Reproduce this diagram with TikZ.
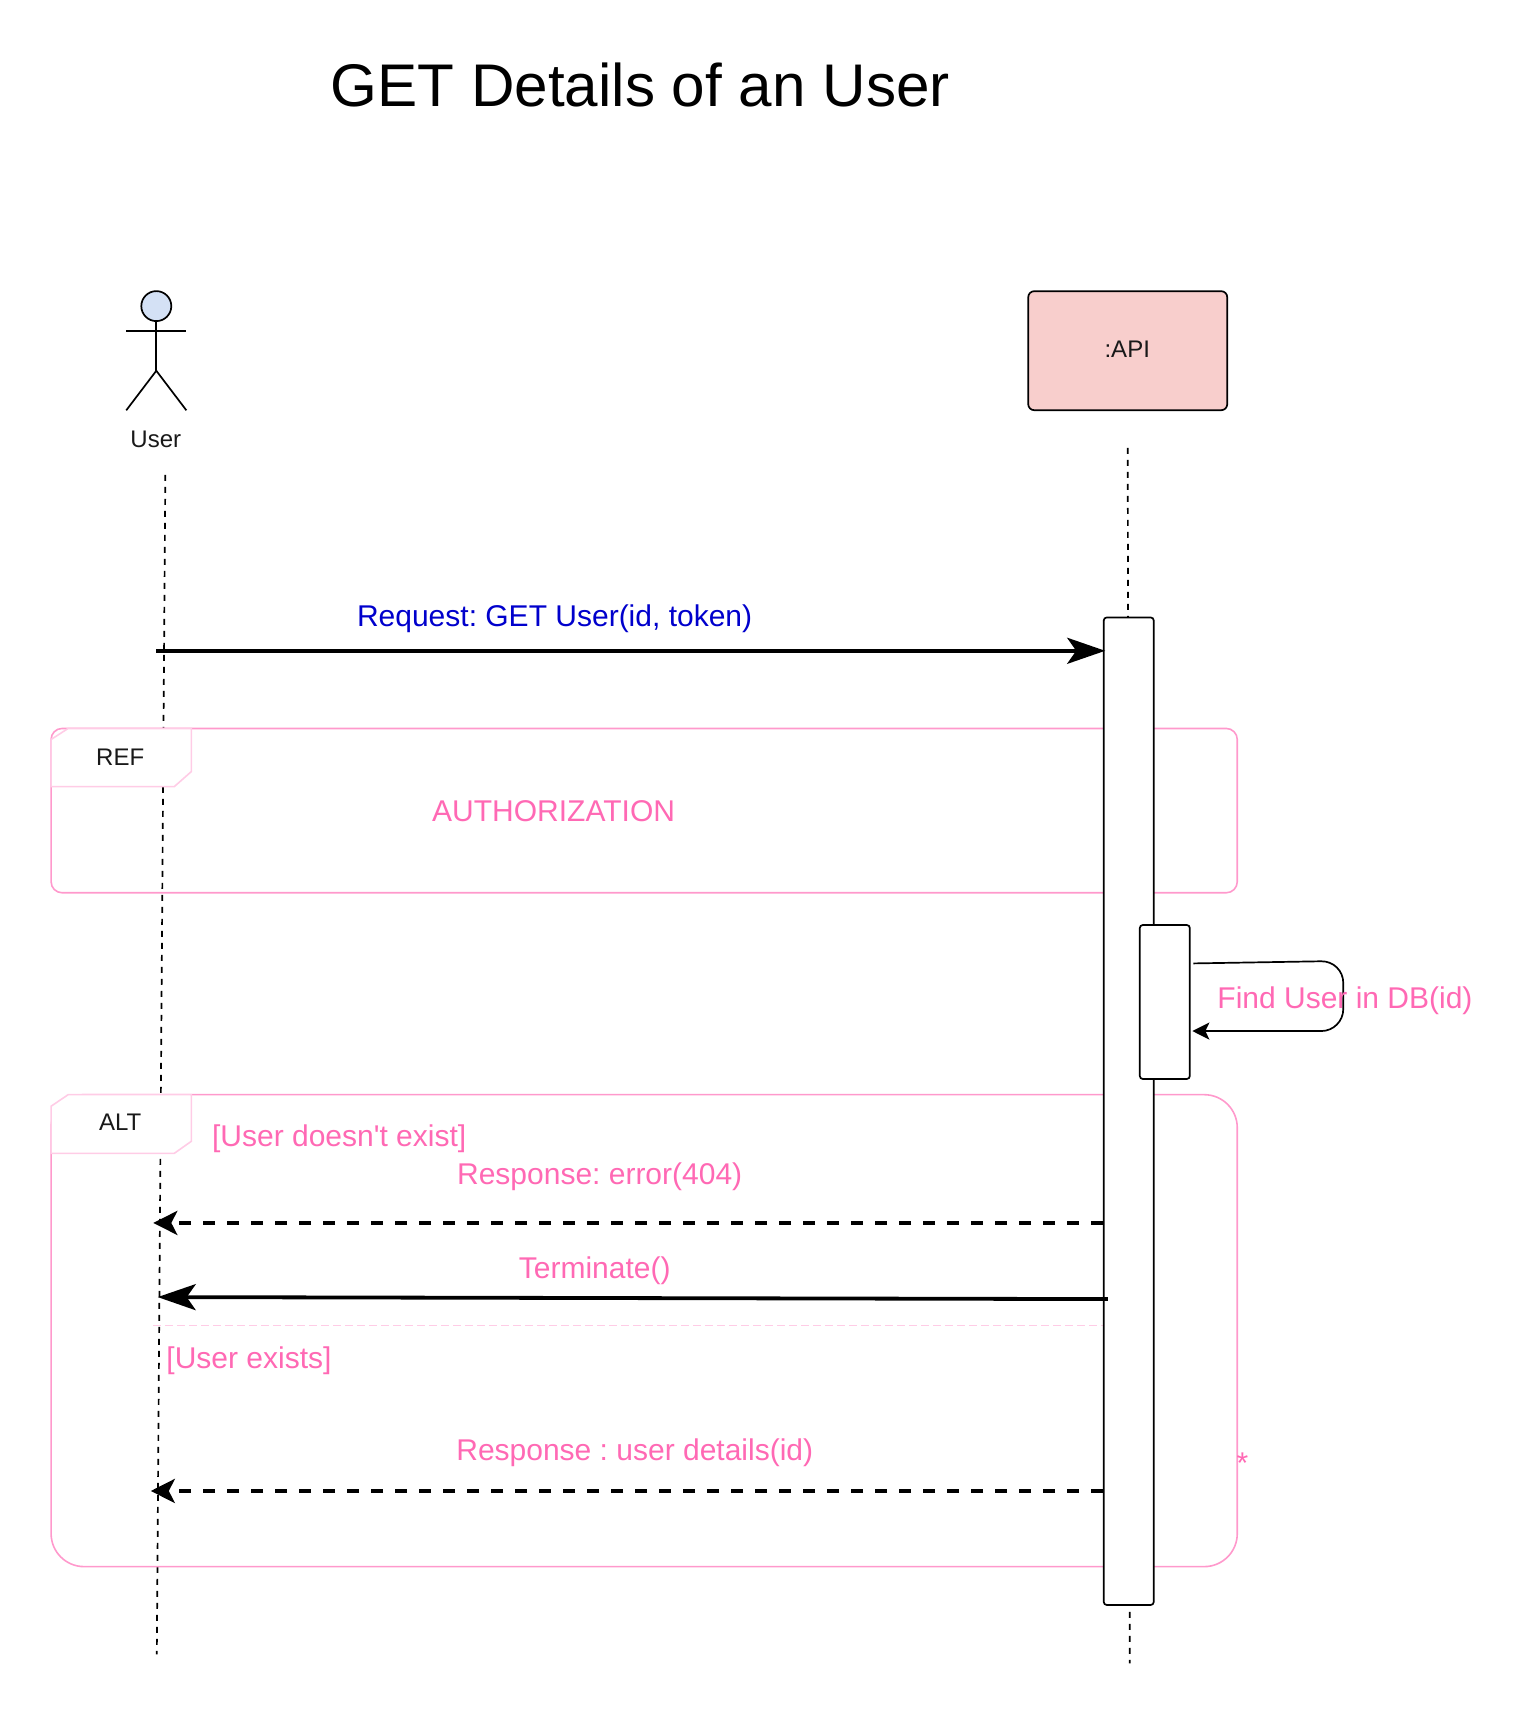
\documentclass[tikz,border=0pt]{standalone}
\usepackage{fontspec}
\setmainfont{Liberation Sans}[Ligatures=TeXOff]
\usepackage{xcolor}
\usetikzlibrary{arrows.meta,positioning,shapes}
\definecolor{framepink}{HTML}{FF99CC}
\definecolor{tabpink}{HTML}{FFCCE6}
\definecolor{textpink}{HTML}{FF69B4}
\definecolor{reqblue}{HTML}{0000CC}
\definecolor{boxred}{HTML}{F8CECC}
\definecolor{headblue}{HTML}{D4E1F5}
\frenchspacing
\begin{document}
\begin{tikzpicture}[x=0.501pt, y=-0.501pt, line width=0.85pt,
	main/.style = {inner sep=0pt, font=\fontsize{15}{18}\selectfont, text=textpink},
	small/.style = {inner sep=0pt, font=\fontsize{12}{14}\selectfont, text=black!90},
	act/.style = {draw, fill=white, rounded corners=1.5pt, inner sep=0pt, minimum width=25pt},
	life/.style = {dash pattern=on 3pt off 3pt},
	frame/.style = {draw=framepink, line width=0.8pt},
	tab/.style = {draw=tabpink, fill=white, line width=0.8pt},
	big/.style = {line width=1.9pt, -{Stealth[length=19pt, width=13pt, inset=4.5pt]}},
	ret/.style = {line width=1.9pt, dash pattern=on 6pt off 6pt, -{Stealth[length=12pt, width=12pt, inset=3pt]}}]
	\useasboundingbox (0,0) rectangle (1531,1712.6);

	\node[inner sep=0pt, font=\fontsize{30.1}{36}\selectfont] (title) at (639,85) {GET Details of an User};

	\coordinate (usertop) at (165,474);
	\coordinate (userend) at (156.5,1651);
	\coordinate (apitop) at (1125.5,447);
	\coordinate (apiend) at (1127.5,1660);
	\draw[life] (usertop) -- (userend);
	\draw[life] (apitop) -- (apiend);

	\node[draw, circle, fill=headblue, minimum size=15pt, inner sep=0pt] (head) at (156,305.5) {};
	\coordinate (armL) at (126,330);
	\coordinate (armR) at (186,330);
	\coordinate (hip) at (156,370);
	\coordinate (legL) at (126,409.5);
	\coordinate (legR) at (186,409.5);
	\draw (head) -- (hip);
	\draw (armL) -- (armR);
	\draw (legL) -- (hip) -- (legR);
	\node[small] (user) at (155.5,438.5) {User};

	\node[draw, fill=boxred, rounded corners=3pt, minimum width=99.5pt, minimum height=59.5pt, inner sep=0pt] (api) at (1125.5,350) {};
	\node[small] (apilabel) at (1125,349) {:API};

	\draw[frame, rounded corners=5.5pt] (51,727) rectangle (1234.8,891);
	\draw[tab] (51,738) -- (68,727) -- (191,727) -- (191,770) -- (174,785) -- (51,785) -- cycle;
	\node[small] (reflabel) at (120,755.5) {REF};
	\node[main] (authorization) at (552.5,810) {AUTHORIZATION};

	\draw[frame, rounded corners=16.5pt] (51,1092.5) rectangle (1234.8,1563.5);
	\draw[tab] (51,1104) -- (68,1092.5) -- (191,1092.5) -- (191,1139) -- (174,1151) -- (51,1151) -- cycle;
	\node[small] (altlabel) at (120,1120.5) {ALT};

	\coordinate (sepL) at (153,1323);
	\coordinate (sepR) at (1101,1323);
	\draw[draw=tabpink, line width=0.8pt, dash pattern=on 4pt off 2pt] (sepL) -- (sepR);

	\node[act, minimum height=493.75pt] (act1) at (1126.5,1109) {};
	\node[act, minimum height=77pt] (act2) at (1162.5,1000) {};

	\coordinate (reqL) at (156,649.5);
	\coordinate (reqR) at (1103,649.5);
	\draw[big] (reqL) -- (reqR);
	\node[inner sep=0pt, font=\fontsize{15}{18}\selectfont, text=reqblue] (request) at (553.5,618) {Request: GET User(id, token)};

	\coordinate (selfA) at (1191,961.5);
	\coordinate (selfB) at (1340.6,959);
	\coordinate (selfC) at (1340.6,1029);
	\coordinate (selfD) at (1190,1029);
	\draw[rounded corners=11pt, -{Stealth[length=8.5pt, width=8.5pt, inset=2pt]}] (selfA) -- (selfB) -- (selfC) -- (selfD);
	\node[main] (find) at (1342.3,999) {Find User in DB(id)};

	\node[main] (notexist) at (338.5,1136) {[User doesn't exist]};
	\node[main] (err) at (598.5,1174) {Response: error(404)};
	\coordinate (errR) at (1101,1220.5);
	\coordinate (errL) at (153,1220.5);
	\draw[ret] (errR) -- (errL);

	\node[main] (terminate) at (593.5,1268) {Terminate()};
	\coordinate (termR) at (1105.7,1296.5);
	\coordinate (termL) at (157.4,1294.5);
	\draw[big] (termR) -- (termL);

	\node[main] (exists) at (248.5,1358) {[User exists]};
	\node[main] (details) at (633.5,1449.5) {Response : user details(id)};
	\coordinate (detR) at (1101,1488);
	\coordinate (detL) at (150.5,1488);
	\draw[ret] (detR) -- (detL);

	\node[main] (star) at (1240,1460) {*};
\end{tikzpicture}
\end{document}
